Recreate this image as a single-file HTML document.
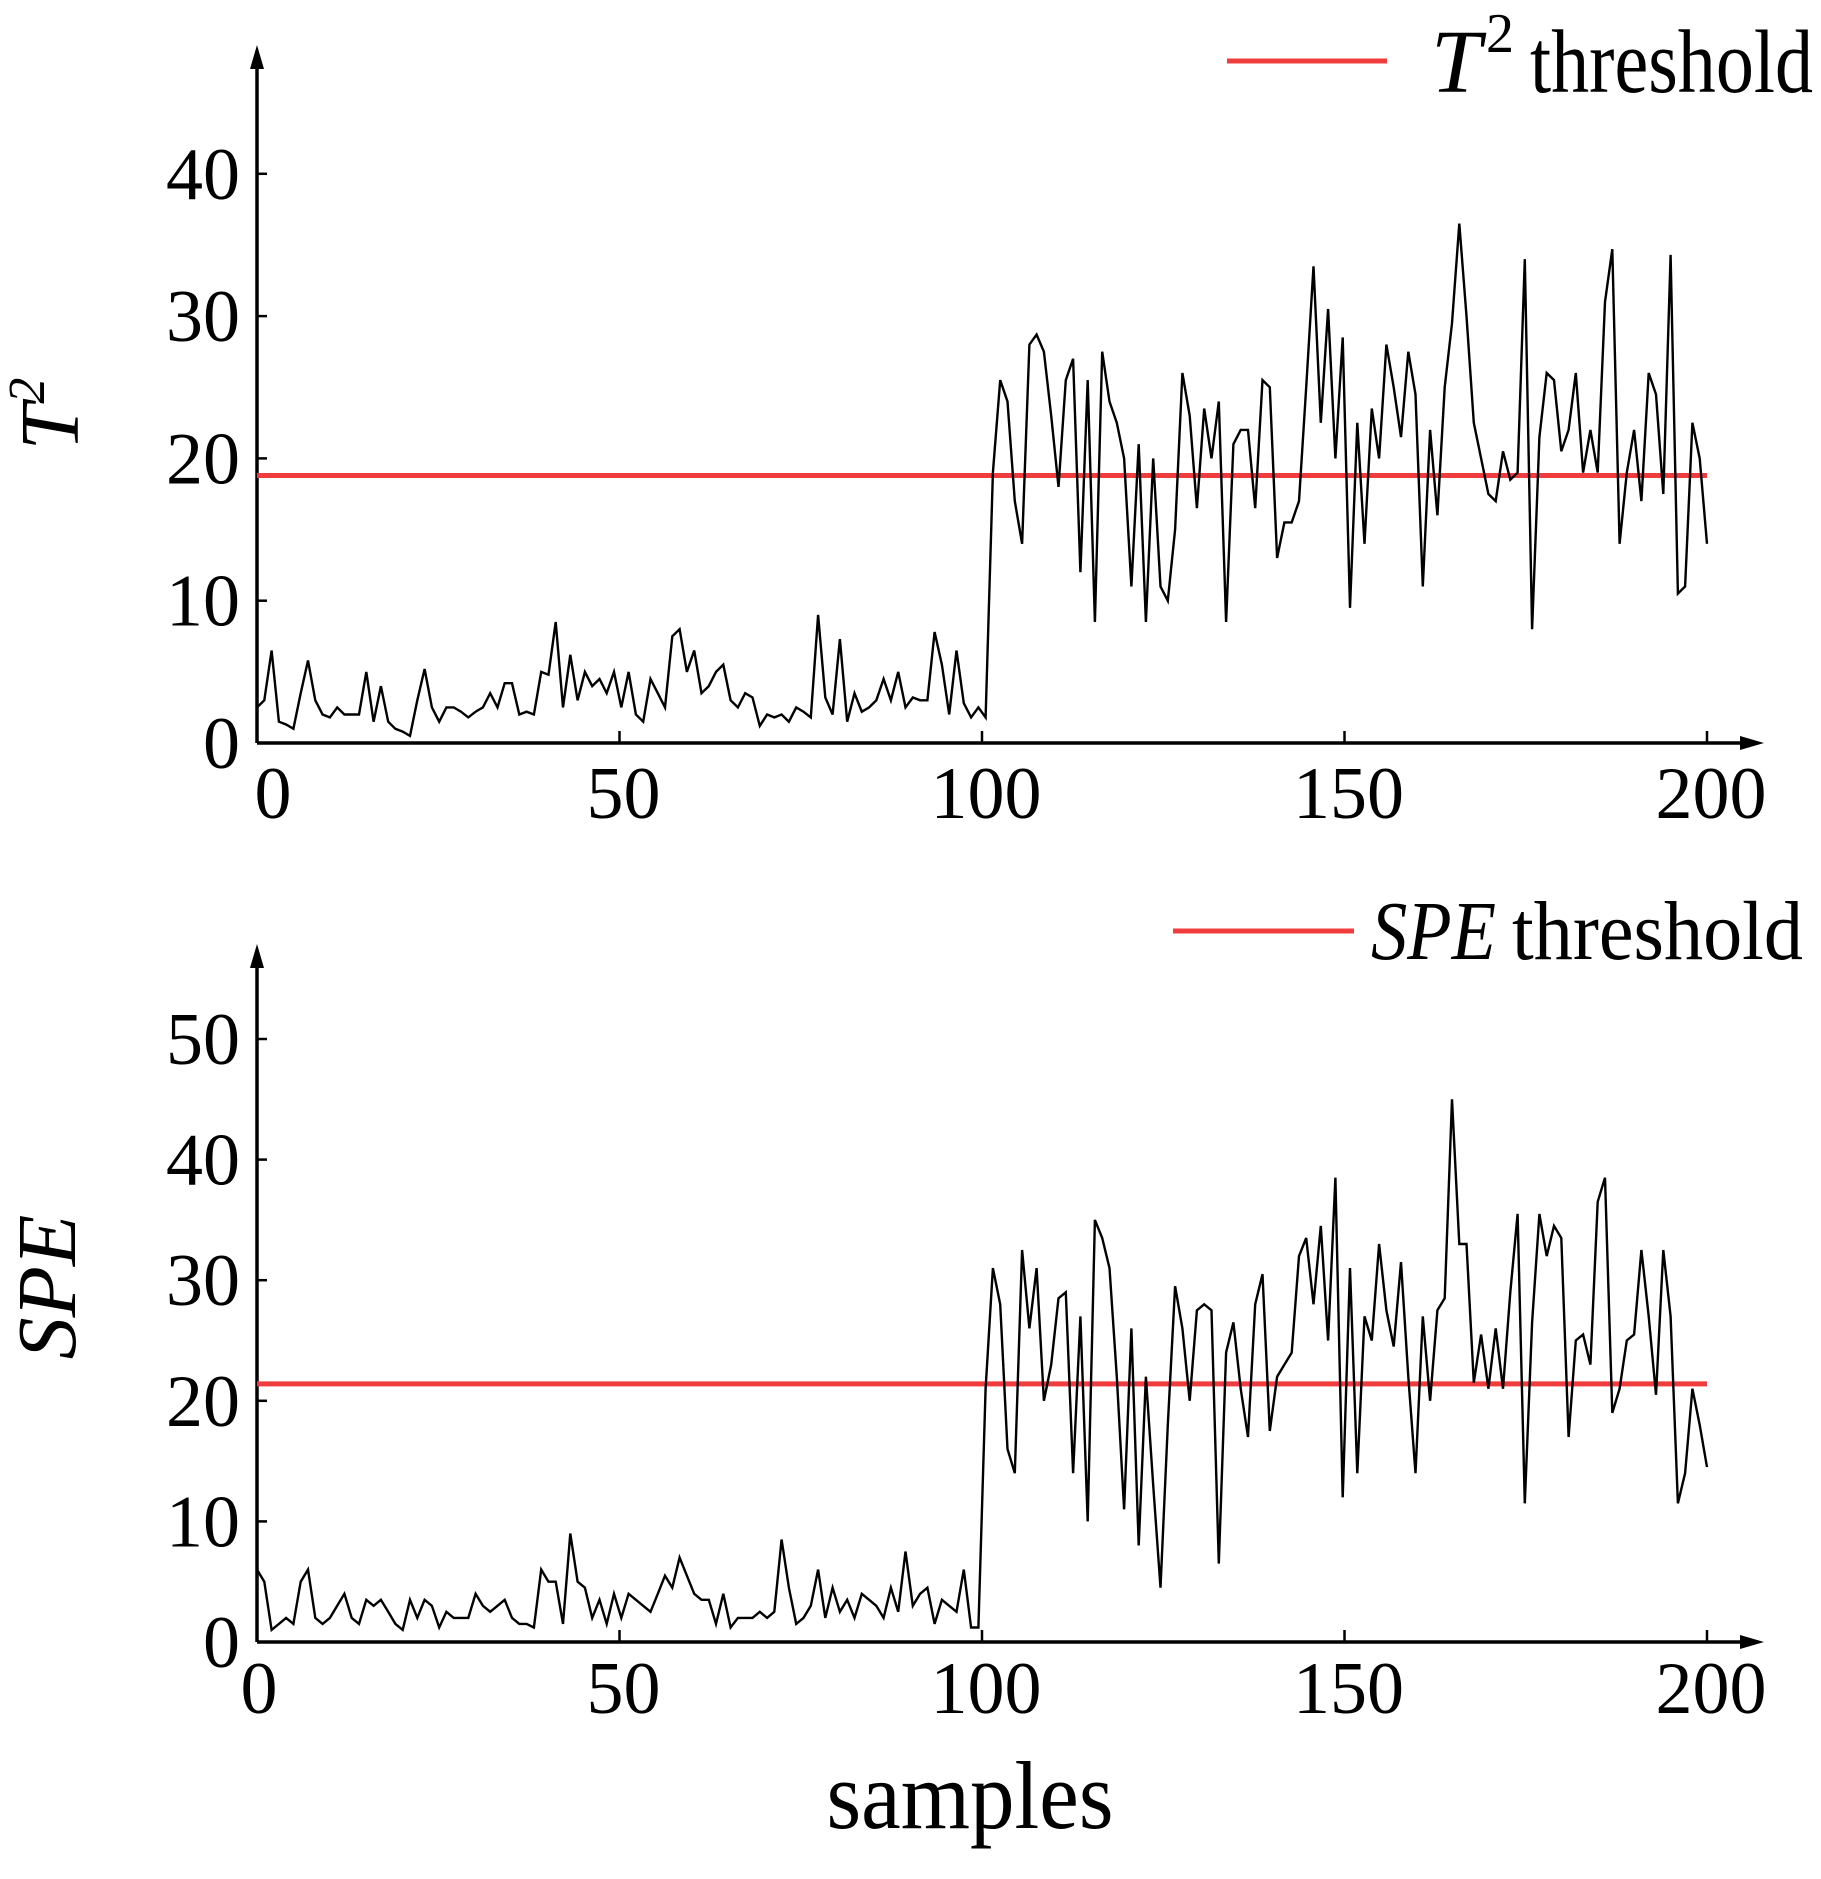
<!DOCTYPE html>
<html><head><meta charset="utf-8"><style>
html,body{margin:0;padding:0;background:#fff;}
svg{display:block;}
text{font-family:"Liberation Serif",serif;fill:#000;}
</style></head><body>
<svg id="s" width="1821" height="1879" viewBox="0 0 1821 1879" xmlns="http://www.w3.org/2000/svg">
<g id="g"></g>
<!-- top legend -->
<line x1="1227" y1="61" x2="1387" y2="61" stroke="#f03c3c" stroke-width="5"/>
<text x="1431" y="92" font-size="90" font-style="italic">T</text>
<text x="1486" y="52" font-size="56">2</text>
<text x="1530" y="92" font-size="90" textLength="283" lengthAdjust="spacingAndGlyphs">threshold</text>
<!-- bottom legend -->
<line x1="1173" y1="931" x2="1354" y2="931" stroke="#f03c3c" stroke-width="5"/>
<text x="1371" y="959" font-size="84" font-style="italic" textLength="125" lengthAdjust="spacingAndGlyphs">SPE</text>
<text x="1512" y="959" font-size="84" textLength="291" lengthAdjust="spacingAndGlyphs">threshold</text>
<!-- y labels -->
<g transform="translate(78,414) rotate(-90)"><text x="0" y="0" font-size="84" font-style="italic" text-anchor="middle">T<tspan font-size="52" dy="-34" font-style="italic">2</tspan></text></g>
<g transform="translate(75,1287) rotate(-90)"><text x="0" y="0" font-size="84" font-style="italic" text-anchor="middle">SPE</text></g>
<text x="970" y="1828" font-size="96" text-anchor="middle" textLength="287" lengthAdjust="spacingAndGlyphs">samples</text>
</svg>
<script>
var NS="http://www.w3.org/2000/svg",g=document.getElementById("g");
function el(n,a,t){var e=document.createElementNS(NS,n);for(var k in a)e.setAttribute(k,a[k]);if(t!==undefined)e.textContent=t;g.appendChild(e);return e;}
var T=[2.5,3,6.5,1.5,1.3,1,3.5,5.8,3,2,1.8,2.5,2,2,2,5,1.5,4,1.5,1,0.8,
0.5,3,5.2,2.5,1.5,2.5,2.5,2.2,1.8,2.2,2.5,3.5,2.5,4.2,4.2,2,2.2,2,5,4.8,
8.5,2.5,6.2,3,5,4,4.5,3.5,5,2.5,5,2,1.5,4.5,3.5,2.5,7.5,8,5,6.5,
3.5,4,5,5.5,3,2.5,3.5,3.2,1.2,2,1.8,2,1.5,2.5,2.2,1.8,9,3.2,2,7.3,
1.5,3.5,2.2,2.5,3,4.5,3,5,2.5,3.2,3,3,7.8,5.5,2,6.5,2.8,1.8,2.5,1.8,
19,25.5,24,17,14,28,28.7,27.5,23,18,25.5,27,12,25.5,8.5,27.5,24,22.5,20,11,21,8.5,20,11,10,15,26,23,16.5,23.5,20,24,8.5,21,22,22,16.5,25.5,25,13,15.5,15.5,17,25,33.5,22.5,30.5,20,28.5,9.5,22.5,14,23.5,20,28,25,21.5,27.5,24.5,11,22,16,25,29.5,36.5,30,22.5,20,17.5,17,20.5,18.5,19,34,8,21.5,26,25.5,20.5,22,26,19,22,19,31,34.7,14,19,22,17,26,24.5,17.5,34.3,10.5,11,22.5,20,14];
var S=[6,5,1,1.5,2,1.5,5,6,2,1.5,2,3,4,2,1.5,3.5,3,3.5,2.5,1.5,1,
3.5,2,3.5,3,1.2,2.5,2,2,2,4,3,2.5,3,3.5,2,1.5,1.5,1.2,6,5,
5,1.5,9,5,4.5,2,3.5,1.5,4,2,4,3.5,3,2.5,4,5.5,4.5,7,5.5,4,
3.5,3.5,1.5,4,1.2,2,2,2,2.5,2,2.5,8.5,4.5,1.5,2,3,6,2,4.5,2.5,
3.5,2,4,3.5,3,2,4.5,2.5,7.5,3,4,4.5,1.5,3.5,3,2.5,6,1.2,1.2,
21,31,28,16,14,32.5,26,31,20,23,28.5,29,14,27,10,35,33.5,31,22,11,26,8,22,13,4.5,18,29.5,26,20,27.5,28,27.5,6.5,24,26.5,21,17,28,30.5,17.5,22,23,24,32,33.5,28,34.5,25,38.5,12,31,14,27,25,33,27.5,24.5,31.5,22,14,27,20,27.5,28.5,45,33,33,21.5,25.5,21,26,21,29,35.5,11.5,26.5,35.5,32,34.5,33.5,17,25,25.5,23,36.5,38.5,19,21,25,25.5,32.5,27,20.5,32.5,27,11.5,14,21,18,14.5];
var X0=257,X1=1707;
function panel(y0,per10,top,ticks,thr,data,xlblY,zoff){
 var ax="#000";
 el("line",{x1:X0,y1:y0,x2:1755,y2:y0,stroke:ax,"stroke-width":3.5});
 el("line",{x1:X0,y1:y0,x2:X0,y2:top+8,stroke:ax,"stroke-width":3.5});
 el("path",{d:"M"+X0+" "+(top)+" L"+(X0-7)+" "+(top+24)+" L"+(X0+7)+" "+(top+24)+"Z",fill:ax});
 el("path",{d:"M1764 "+y0+" L1740 "+(y0-7)+" L1740 "+(y0+7)+"Z",fill:ax});
 ticks.forEach(function(v){var y=y0-v/10*per10;el("line",{x1:X0,y1:y,x2:X0+10,y2:y,stroke:ax,"stroke-width":2.5});
  el("text",{x:240,y:y+25,"font-size":74,"text-anchor":"end"},String(v));});
 [0,50,100,150,200].forEach(function(v){var x=X0+v/200*(X1-X0);el("line",{x1:x,y1:y0,x2:x,y2:y0-12,stroke:ax,"stroke-width":2.5});
  el("text",{x:x+(v==0?zoff:4),y:xlblY,"font-size":74,"text-anchor":"middle"},String(v));});
 var ty=y0-thr/10*per10;
 el("line",{x1:X0,y1:ty,x2:X1,y2:ty,stroke:"#f03c3c","stroke-width":5});
 var n=data.length,p=[];
 for(var i=0;i<n;i++)p.push((X0+i*(X1-X0)/(n-1)).toFixed(1)+","+(y0-data[i]/10*per10).toFixed(1));
 el("polyline",{points:p.join(" "),fill:"none",stroke:"#000","stroke-width":2.4,"stroke-linejoin":"miter"});
}
panel(743,142.3,45,[0,10,20,30,40],18.8,T,818,16);
panel(1642,120.6,944,[0,10,20,30,40,50],21.4,S,1713,2);
</script>
</body></html>
